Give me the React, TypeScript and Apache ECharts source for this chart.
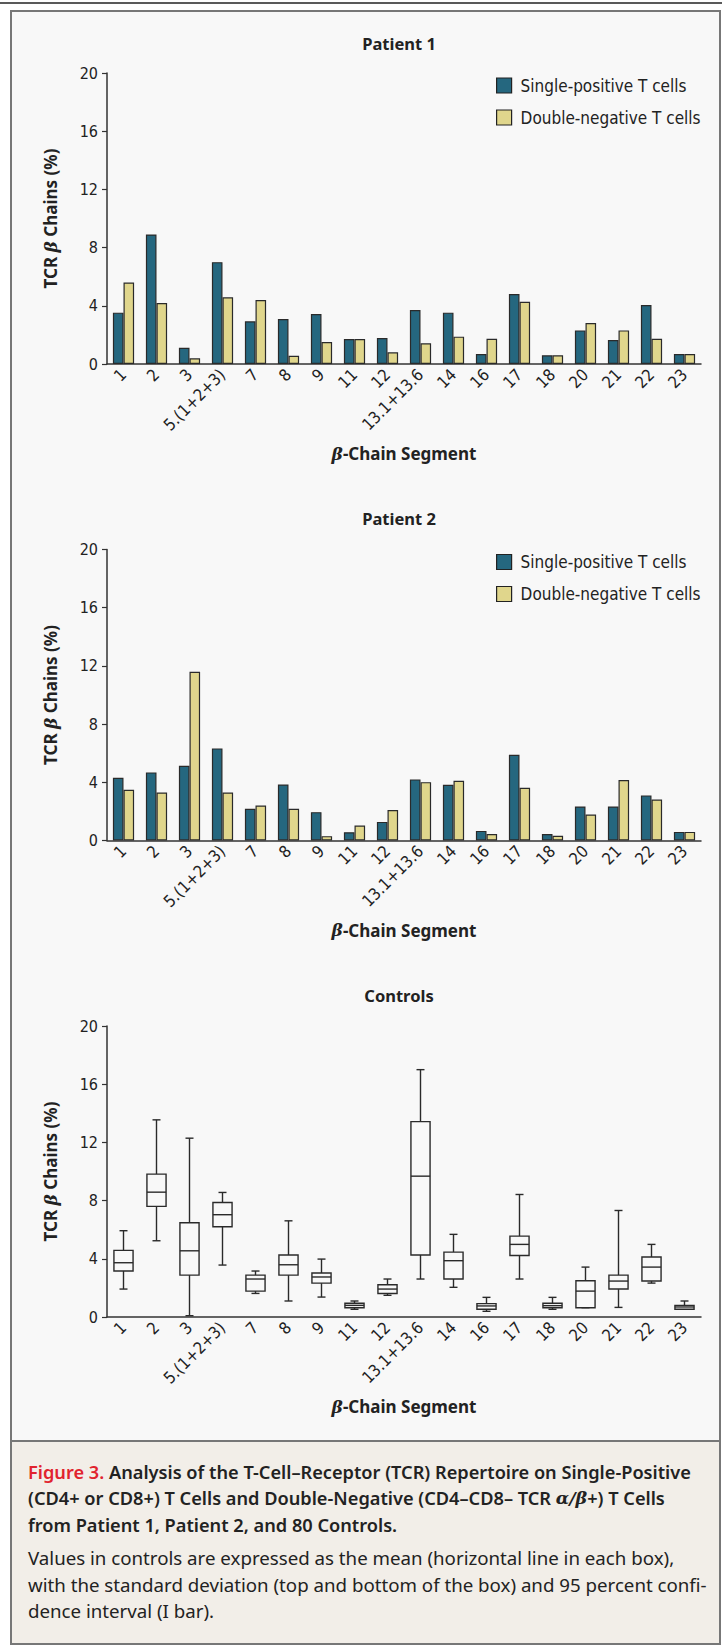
import React, { useEffect, useRef } from 'react';
import * as echarts from 'echarts';

const categories = ['1', '2', '3', '5.(1+2+3)', '7', '8', '9', '11', '12', '13.1+13.6', '14', '16', '17', '18', '20', '21', '22', '23'];
const seriesNames = ['Single-positive T cells', 'Double-negative T cells'];
const titles = ['Patient 1', 'Patient 2', 'Controls'];
const yTicks = [0, 4, 8, 12, 16, 20];

const p1Single = [3.53, 8.9, 1.12, 7.0, 2.93, 3.09, 3.44, 1.72, 1.79, 3.71, 3.53, 0.69, 4.81, 0.6, 2.31, 1.65, 4.05, 0.69];
const p1Double = [5.6, 4.19, 0.39, 4.58, 4.4, 0.57, 1.51, 1.72, 0.8, 1.42, 1.88, 1.74, 4.28, 0.6, 2.82, 2.31, 1.74, 0.69];
const p2Single = [4.31, 4.68, 5.13, 6.33, 2.18, 3.85, 1.95, 0.57, 1.28, 4.2, 3.83, 0.66, 5.89, 0.45, 2.34, 2.34, 3.1, 0.59];
const p2Double = [3.48, 3.3, 11.6, 3.3, 2.41, 2.18, 0.3, 1.03, 2.09, 4.01, 4.1, 0.45, 3.62, 0.32, 1.79, 4.15, 2.82, 0.59];

const ctrlLow = [1.92, 5.24, 0.09, 3.57, 1.62, 1.1, 1.37, 0.53, 1.49, 2.61, 2.04, 0.39, 2.61, 0.53, 0.64, 0.66, 2.33, 0.53];
const ctrlBoxBottom = [3.16, 7.6, 2.88, 6.2, 1.78, 2.88, 2.33, 0.64, 1.62, 4.26, 2.61, 0.53, 4.23, 0.64, 0.64, 1.92, 2.47, 0.53];
const ctrlMean = [3.73, 8.58, 4.55, 7.03, 2.61, 3.59, 2.75, 0.8, 1.92, 9.68, 3.87, 0.76, 4.99, 0.78, 1.78, 2.47, 3.43, 0.69];
const ctrlBoxTop = [4.58, 9.82, 6.48, 7.87, 2.88, 4.26, 3.02, 0.94, 2.22, 13.43, 4.46, 0.92, 5.56, 0.94, 2.49, 2.88, 4.12, 0.8];
const ctrlHigh = [5.93, 13.55, 12.29, 8.56, 3.16, 6.61, 3.98, 1.1, 2.61, 17.0, 5.68, 1.35, 8.42, 1.35, 3.43, 7.32, 4.99, 1.1];

const COND = '"Liberation Sans Narrow", "Arial Narrow", "DejaVu Sans Condensed", "Noto Sans", sans-serif';
const MAIN = '"Noto Sans", "DejaVu Sans", sans-serif';
const BLUE = '#25677f';
const YELLOW = '#e0d68c';
const INK = '#222222';

const GRID_TOPS = [73, 549.5, 1026];
const TITLE_Y = [43, 518, 995];
const LEGEND_TOPS = [77, 553.5];

const boldRich = (size: number) => ({
  b: { fontFamily: MAIN, fontWeight: 'bold', fontSize: size, color: INK },
  i: { fontFamily: '"DejaVu Serif", serif', fontStyle: 'italic', fontWeight: 'bold', fontSize: size, color: INK },
});

export default function App() {
  const ref = useRef<HTMLDivElement>(null);

  useEffect(() => {
    if (!ref.current) return;
    const chart = echarts.init(ref.current, null, { renderer: 'svg' });

    const grids = GRID_TOPS.map((top) => ({ left: 107, top, width: 594, height: 291 }));

    const xAxes = GRID_TOPS.map((_, i) => ({
      gridIndex: i,
      type: 'category',
      data: categories,
      axisLine: { show: true, lineStyle: { color: '#333', width: 1.5 } },
      axisTick: { show: false },
      axisLabel: { interval: 0, rotate: 45, fontFamily: COND, fontSize: 16.5, color: INK, margin: 8 },
      name: '{i|β}{b|-Chain Segment}',
      nameLocation: 'middle',
      nameGap: 81,
      nameTextStyle: { rich: boldRich(17) },
    }));

    const yAxes = GRID_TOPS.map((_, i) => ({
      gridIndex: i,
      type: 'value',
      min: yTicks[0],
      max: yTicks[yTicks.length - 1],
      interval: 4,
      axisLine: { show: true, lineStyle: { color: '#333', width: 1.5 } },
      axisTick: { show: true, length: 5, lineStyle: { color: '#333', width: 1.2 } },
      axisLabel: { fontFamily: COND, fontSize: 16, color: INK, margin: 9 },
      splitLine: { show: false },
      name: '{b|TCR }{i|β}{b| Chains (%)}',
      nameLocation: 'middle',
      nameGap: 48,
      nameTextStyle: { rich: boldRich(17) },
    }));

    const barStyle = (color: string) => ({ color, borderColor: '#2a2a2a', borderWidth: 1.2 });
    const barSeries = [
      [p1Single, p1Double],
      [p2Single, p2Double],
    ].flatMap((pair, gi) =>
      pair.map((data, si) => ({
        type: 'bar',
        name: seriesNames[si],
        xAxisIndex: gi,
        yAxisIndex: gi,
        data,
        barWidth: 10.6,
        barGap: '0%',
        itemStyle: barStyle(si === 0 ? BLUE : YELLOW),
      }))
    );

    const boxData = categories.map((_, k) => [k, ctrlLow[k], ctrlBoxBottom[k], ctrlMean[k], ctrlBoxTop[k], ctrlHigh[k]]);

    const boxSeries = {
      type: 'custom',
      name: 'Controls',
      xAxisIndex: 2,
      yAxisIndex: 2,
      data: boxData,
      encode: { x: 0, y: [1, 2, 3, 4, 5] },
      renderItem: (params: any, api: any) => {
        const k = api.value(0);
        const pLow = api.coord([k, api.value(1)]);
        const pBot = api.coord([k, api.value(2)]);
        const pMean = api.coord([k, api.value(3)]);
        const pTop = api.coord([k, api.value(4)]);
        const pHigh = api.coord([k, api.value(5)]);
        const band = api.size([1, 0])[0];
        const hw = band * 0.29;
        const cw = 4;
        const cx = pMean[0];
        const ls = { stroke: '#2a2a2a', lineWidth: 1.4, fill: null };
        return {
          type: 'group',
          children: [
            { type: 'line', shape: { x1: cx, y1: pTop[1], x2: cx, y2: pHigh[1] }, style: ls },
            { type: 'line', shape: { x1: cx - cw, y1: pHigh[1], x2: cx + cw, y2: pHigh[1] }, style: ls },
            { type: 'line', shape: { x1: cx, y1: pBot[1], x2: cx, y2: pLow[1] }, style: ls },
            { type: 'line', shape: { x1: cx - cw, y1: pLow[1], x2: cx + cw, y2: pLow[1] }, style: ls },
            {
              type: 'rect',
              shape: { x: cx - hw, y: pTop[1], width: hw * 2, height: pBot[1] - pTop[1] },
              style: { stroke: '#2a2a2a', lineWidth: 1.4, fill: '#f8f8f8' },
            },
            { type: 'line', shape: { x1: cx - hw, y1: pMean[1], x2: cx + hw, y2: pMean[1] }, style: ls },
          ],
        };
      },
    };

    const legends = LEGEND_TOPS.map((top) => ({
      orient: 'vertical',
      left: 496,
      top,
      padding: 0,
      itemWidth: 15,
      itemHeight: 15,
      itemGap: 15,
      icon: 'rect',
      selectedMode: false,
      data: seriesNames,
      itemStyle: { borderColor: '#222', borderWidth: 1.2 },
      textStyle: { fontFamily: COND, fontSize: 17, lineHeight: 15, color: INK, padding: [0, 0, 0, 4] },
    }));

    const titleTexts = titles.map((t, i) => ({
      type: 'text',
      x: 399,
      y: TITLE_Y[i],
      style: { text: t, fontFamily: MAIN, fontWeight: 'bold', fontSize: 16.5, fill: INK, align: 'center', verticalAlign: 'middle' },
    }));

    const capBold = { fontFamily: MAIN, fontWeight: 600, fontSize: 18.2, fill: INK };
    const capReg = { fontFamily: MAIN, fontWeight: 400, fontSize: 18.7, fill: INK };
    const capItalic = { fontFamily: '"DejaVu Serif", serif', fontStyle: 'italic', fontWeight: 600, fontSize: 17.5, fill: INK };
    const captionLines = [
      { text: '{r|Figure 3.} Analysis of the T-Cell–Receptor (TCR) Repertoire on Single-Positive', y: 1472, st: capBold },
      { text: '(CD4+ or CD8+) T Cells and Double-Negative (CD4–CD8– TCR {i|α/β}+) T Cells', y: 1498, st: capBold },
      { text: 'from Patient 1, Patient 2, and 80 Controls.', y: 1524.5, st: capBold },
      { text: 'Values in controls are expressed as the mean (horizontal line in each box),', y: 1557.5, st: capReg },
      { text: 'with the standard deviation (top and bottom of the box) and 95 percent confi-', y: 1584.5, st: capReg },
      { text: 'dence interval (I bar).', y: 1610, st: capReg },
    ].map((l) => ({
      type: 'text',
      x: 28,
      y: l.y,
      style: {
        ...l.st,
        text: l.text,
        align: 'left',
        verticalAlign: 'middle',
        rich: {
          r: { ...capBold, fill: '#e1232e' },
          i: capItalic,
        },
      },
    }));

    const option = {
      animation: false,
      backgroundColor: '#ffffff',
      grid: grids,
      xAxis: xAxes,
      yAxis: yAxes,
      legend: legends,
      series: [...barSeries, boxSeries],
      graphic: [
        { type: 'rect', z: -10, shape: { x: 11, y: 11, width: 709, height: 1633 }, style: { fill: '#f8f8f8', stroke: '#777', lineWidth: 2 } },
        { type: 'rect', z: -9, shape: { x: 11, y: 1441, width: 709, height: 203 }, style: { fill: '#f2eee8', stroke: '#777', lineWidth: 2 } },
        { type: 'line', z: -8, shape: { x1: 0, y1: 3, x2: 722, y2: 3 }, style: { stroke: '#222', lineWidth: 1.5 } },
        ...titleTexts,
        ...captionLines,
      ],
    };

    chart.setOption(option as any);
    return () => chart.dispose();
  }, []);

  return <div ref={ref} style={{ position: 'absolute', left: 0, top: 0, width: 722, height: 1646 }} />;
}
